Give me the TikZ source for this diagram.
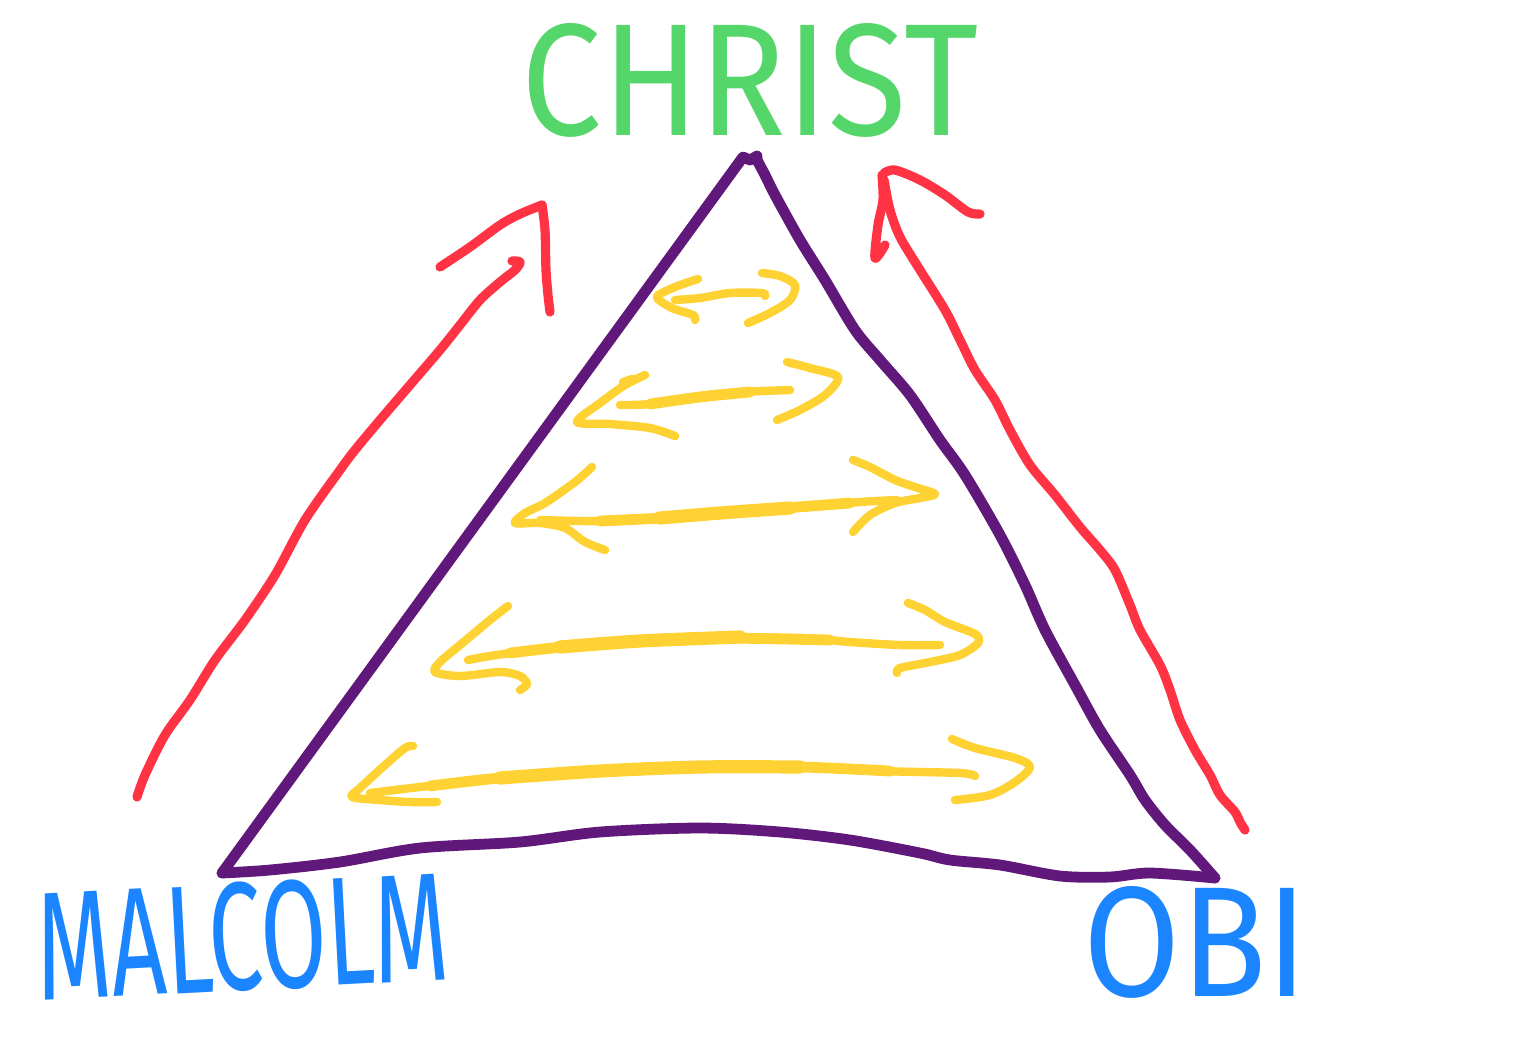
\documentclass[tikz,border=0pt]{standalone}
\usepackage{fontspec}
\setmainfont{Fira Sans}
\definecolor{tri}{RGB}{96,24,122}
\definecolor{redc}{RGB}{255,51,68}
\definecolor{grn}{RGB}{85,214,107}
\definecolor{blu}{RGB}{26,133,255}
\definecolor{yel}{RGB}{255,210,51}
\begin{document}
\begin{tikzpicture}[x=0.5pt,y=-0.5pt, line cap=round, line join=round,
  triline/.style={draw=tri, line width=5.4pt},
  redline/.style={draw=redc, line width=4.6pt},
  yelline/.style={draw=yel, line width=4.2pt},
  yelmid/.style={draw=yel, line width=5.4pt},
  yelthick/.style={draw=yel, line width=6.6pt},
  lbl/.style={inner sep=0pt, outer sep=0pt}]
\useasboundingbox[fill=white] (0,0) rectangle (1536,1046);

% labels
\node[lbl, text=grn] (christ) at (750,80) {\resizebox{228pt}{56pt}{CHRIST}};
\node[lbl, text=blu, rotate=3] (malcolm) at (242,937) {\resizebox{206pt}{54pt}{MALCOLM}};
\node[lbl, text=blu] (obi) at (1196,942) {\resizebox{112pt}{55pt}{OBI}};

% triangle
\coordinate (apexL) at (743,157);
\coordinate (apexR) at (757,160);
\coordinate (bl) at (222,873);
\coordinate (br) at (1215,878);
\draw[triline] (bl) -- (apexL) -- (750,160) -- (757,156) -- (apexR);
\draw[triline] plot[smooth, tension=0.5] coordinates {(757,160)(765,175)(775,195)(800,240)(825,280)(855,330)(880,360)(910,395)(940,440)(965,475)(1000,535)(1025,585)(1045,630)(1075,685)(1100,730)(1130,775)(1145,800)(1165,825)(1190,850)(1215,878)};
\draw[triline] plot[smooth, tension=0.5] coordinates {(222,873)(270,870)(340,862)(420,848)(520,842)(600,832)(700,828)(780,832)(850,840)(920,853)(950,860)(1000,865)(1060,876)(1110,877)(1150,873)(1215,878)};

% red arrow left
\draw[redline] plot[smooth, tension=0.5] coordinates {(137,797)(145,775)(165,735)(190,700)(215,660)(245,620)(275,575)(305,520)(340,470)(355,450)(380,420)(410,385)(440,350)(460,325)(480,300)(500,282)(515,270)(520,262)(512,261)};
\draw[redline] plot[smooth, tension=0.5] coordinates {(440,267)(470,247)(500,225)(520,214)(542,205)};
\draw[redline] plot[smooth, tension=0.5] coordinates {(542,205)(545,230)(546,270)(548,295)(550,312)};

% red arrow right
\draw[redline] plot[smooth, tension=0.5] coordinates {(1245,830)(1240,822)(1235,812)(1220,795)(1210,775)(1195,750)(1180,720)(1170,690)(1160,665)(1140,630)(1130,605)(1115,570)(1100,550)(1080,527)(1055,495)(1030,465)(1010,430)(995,400)(975,370)(960,340)(945,310)(920,270)(900,237)(890,210)(884,180)};
\draw[redline] plot[smooth, tension=0.5] coordinates {(882,175)(883,200)(878,225)(875,258)(885,245)};
\draw[redline] plot[smooth, tension=0.5] coordinates {(884,173)(895,170)(920,180)(945,195)(968,212)(980,214)};

% yellow arrow 1
\draw[yelline] plot[smooth, tension=0.5] coordinates {(675,300)(700,298)(730,293)(762,293)(765,296)};
\draw[yelline] plot[smooth, tension=0.5] coordinates {(698,279)(675,287)(657,297)(672,308)(693,315)(695,320)};
\draw[yelline] plot[smooth, tension=0.5] coordinates {(762,273)(780,276)(795,285)(790,300)(770,313)(748,323)};

% yellow arrow 2
\draw[yelline] plot[smooth, tension=0.5] coordinates {(620,405)(650,404)(700,396)(740,392)(790,390)};
\draw[yelmid] plot[smooth, tension=0.5] coordinates {(650,404)(700,397)(750,392)};
\draw[yelline] plot[smooth, tension=0.5] coordinates {(645,375)(625,385)(600,403)(577,422)(610,424)(650,428)(675,436)};
\draw[yelline] (623,382) -- (632,379);
\draw[yelline] plot[smooth, tension=0.5] coordinates {(787,362)(810,368)(838,377)(825,395)(800,410)(777,420)};

% yellow arrow 3
\draw[yelline] plot[smooth, tension=0.5] coordinates {(540,520)(600,521)(680,517)(760,510)(820,506)(860,502)(897,500)};
\draw[yelmid] plot[smooth, tension=0.5] coordinates {(600,521)(680,517)(760,510)(850,503)};
\draw[yelthick] plot[smooth, tension=0.5] coordinates {(660,518)(720,513)(790,508)};
\draw[yelline] plot[smooth, tension=0.5] coordinates {(592,467)(575,482)(545,503)(525,513)(515,523)(540,523)(565,528)(585,542)(605,550)};
\draw[yelline] plot[smooth, tension=0.5] coordinates {(853,460)(870,467)(895,480)(915,487)(935,494)(920,498)(895,503)(870,515)(853,532)};

% yellow arrow 4
\draw[yelline] plot[smooth, tension=0.5] coordinates {(468,660)(490,656)(540,649)(600,643)(700,638)(800,638)(850,642)(900,645)(940,645)};
\draw[yelmid] plot[smooth, tension=0.5] coordinates {(510,653)(600,643)(700,638)(830,640)};
\draw[yelthick] plot[smooth, tension=0.5] coordinates {(560,647)(640,641)(740,637)};
\draw[yelline] plot[smooth, tension=0.5] coordinates {(508,606)(490,620)(460,645)(440,662)(435,672)(460,676)(500,672)(520,676)(527,684)(520,690)};
\draw[yelline] plot[smooth, tension=0.5] coordinates {(908,603)(925,610)(945,622)(975,634)(978,643)(960,655)(930,662)(900,668)(897,673)};

% yellow arrow 5
\draw[yelline] plot[smooth, tension=0.5] coordinates {(370,793)(420,787)(500,778)(600,771)(700,767)(800,767)(880,771)(960,773)(975,776)};
\draw[yelmid] plot[smooth, tension=0.5] coordinates {(430,786)(500,778)(600,771)(700,767)(800,767)(890,771)};
\draw[yelthick] plot[smooth, tension=0.5] coordinates {(500,778)(600,771)(700,767)(800,767)};
\draw[yelline] plot[smooth, tension=0.5] coordinates {(413,746)(405,748)(385,765)(360,788)(352,797)(380,800)(410,802)(437,802)};
\draw[yelline] plot[smooth, tension=0.5] coordinates {(952,739)(975,748)(1015,758)(1030,767)(1015,782)(990,795)(955,800)};
\end{tikzpicture}
\end{document}
